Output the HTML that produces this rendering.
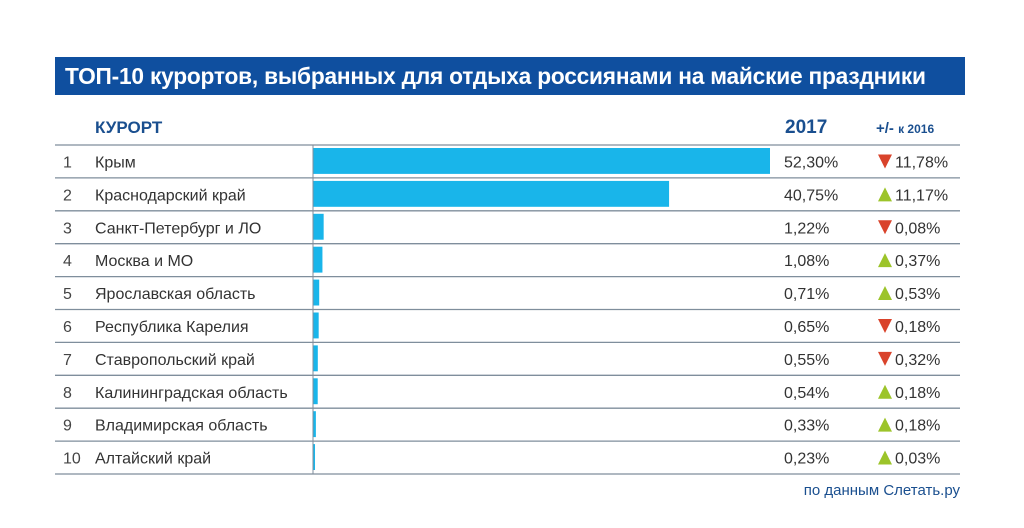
<!DOCTYPE html>
<html><head><meta charset="utf-8"><style>
body{margin:0;width:1024px;height:528px;background:#fff;font-family:"Liberation Sans",sans-serif;overflow:hidden;position:relative}
#title{position:absolute;left:55px;top:57px;width:910px;height:38px;background:#0f4f9f;color:#fff;font-weight:bold;font-size:22.7px;line-height:38px;padding-left:10px;box-sizing:border-box;letter-spacing:-0.2px;white-space:nowrap}
.h{position:absolute;color:#1a4f8f;font-weight:bold}
#src{position:absolute;right:64px;top:482px;font-size:15px;color:#1a4f8f}
</style></head><body>
<div id="title">ТОП-10 курортов, выбранных для отдыха россиянами на майские праздники</div>
<div class="h" style="left:95px;top:118px;font-size:17px">КУРОРТ</div>
<div class="h" style="left:785px;top:117px;font-size:19px">2017</div>
<div class="h" style="left:876px;top:120px;font-size:15px">+/- <span style="font-size:12px">к 2016</span></div>
<svg id="chart" width="1024" height="528" style="position:absolute;left:0;top:0"></svg>
<div id="src">по данным Слетать.ру</div>
<script>
const names=["Крым","Краснодарский край","Санкт-Петербург и ЛО","Москва и МО","Ярославская область","Республика Карелия","Ставропольский край","Калининградская область","Владимирская область","Алтайский край"];
const values=[52.30,40.75,1.22,1.08,0.71,0.65,0.55,0.54,0.33,0.23];
const changes=[11.78,11.17,0.08,0.37,0.53,0.18,0.32,0.18,0.18,0.03];
const directions=["down","up","down","up","up","down","down","up","up","up"];
const svg=document.getElementById('chart');
const NS='http://www.w3.org/2000/svg';
const x0=313,scale=457/52.3,top0=145,rh=32.9;
const xs=v=>x0+v*scale;
const fmt=v=>v.toFixed(2).replace('.',',')+'%';
function mk(t,a){const e=document.createElementNS(NS,t);for(const k in a)e.setAttribute(k,a[k]);svg.appendChild(e);return e;}
function line(y){const l=mk('line',{x1:55,x2:960,y1:y,y2:y,stroke:'#7f8e9c','stroke-width':1.3});}
line(top0);
names.forEach((n,i)=>{
  const y=top0+i*rh, cy=y+rh/2;
  const r=mk('rect',{x:x0,y:y+3,width:Math.max(xs(values[i])-x0,1.5),height:rh-7,fill:'#19b5ea'});
  
  
  const t1=mk('text',{x:63,y:cy+6,'font-size':16,fill:'#444'});t1.textContent=(i+1);
  
  
  const t2=mk('text',{x:95,y:cy+6,'font-size':16,fill:'#333'});t2.textContent=n;
  
  
  const t3=mk('text',{x:784,y:cy+6,'font-size':16,fill:'#333'});t3.textContent=fmt(values[i]);
  
  
  const pts=directions[i]==='down'?`878,${cy-7} 892,${cy-7} 885,${cy+7}`:`878,${cy+7} 892,${cy+7} 885,${cy-7}`;
  const tri=mk('polygon',{points:pts,fill:directions[i]==='down'?'#d9432b':'#9cc42a'});
  
  
  const t4=mk('text',{x:895,y:cy+6,'font-size':16,fill:'#333'});t4.textContent=fmt(changes[i]);
  
  
  line(y+rh);
});
const ax=mk('line',{x1:x0,x2:x0,y1:top0,y2:top0+10*rh,stroke:'#7f8e9c','stroke-width':1});


</script>
</body></html>
